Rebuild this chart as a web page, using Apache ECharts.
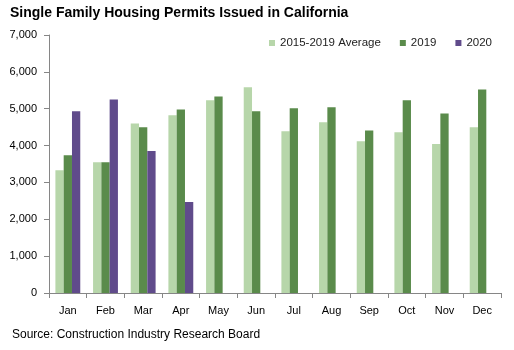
<!DOCTYPE html>
<html><head><meta charset="utf-8">
<script src="https://cdn.jsdelivr.net/npm/echarts@6/dist/echarts.min.js"></script>
<style>html,body{margin:0;padding:0;background:#fff}#c{width:514px;height:350px}</style>
</head><body><div id="c"></div>
<script>
var months = ['Jan','Feb','Mar','Apr','May','Jun','Jul','Aug','Sep','Oct','Nov','Dec'];
var avg1519 = [3330, 3550, 4600, 4820, 5230, 5580, 4390, 4630, 4120, 4360, 4040, 4500];
var y2019 = [3740, 3550, 4500, 4980, 5330, 4930, 5010, 5040, 4410, 5230, 4870, 5520];
var y2020 = [4930, 5250, 3850, 2470, null, null, null, null, null, null, null, null];
var seriesNames = ['2015-2019 Average', '2019', '2020'];
var FONT = 'Liberation Sans';
var chart = echarts.init(document.getElementById('c'), null, {renderer: 'canvas'});
chart.setOption({
  animation: false,
  textStyle: {fontFamily: FONT},
  title: [{
    text: 'Single Family Housing Permits Issued in California',
    left: 5, top: 1,
    textStyle: {fontFamily: FONT, fontSize: 14, fontWeight: 'bold', color: '#000'}
  }, {
    text: 'Source: Construction Industry Research Board',
    left: 7, top: 324,
    textStyle: {fontFamily: FONT, fontSize: 12, fontWeight: 'normal', color: '#000'}
  }],
  legend: {
    right: 17, top: 32,
    itemWidth: 6, itemHeight: 6, itemGap: 19,
    icon: 'rect',
    textStyle: {fontFamily: FONT, fontSize: 11.5, color: '#222'},
    data: seriesNames
  },
  grid: {left: 49, right: 13, top: 35, bottom: 57},
  xAxis: {
    type: 'category', data: months,
    axisLine: {lineStyle: {color: '#868686'}},
    axisTick: {show: true, length: 5, lineStyle: {color: '#868686'}},
    axisLabel: {color: '#000', fontSize: 11, margin: 12}
  },
  yAxis: {
    type: 'value', min: 0, max: 7000, interval: 1000,
    axisLine: {show: true, lineStyle: {color: '#868686'}},
    axisTick: {show: true, length: 5, lineStyle: {color: '#868686'}},
    splitLine: {show: false},
    axisLabel: {color: '#000', fontSize: 11, margin: 12,
      formatter: function (v) { return v.toLocaleString('en-US'); }}
  },
  series: [
    {name: seriesNames[0], type: 'bar', data: avg1519, barGap: '0%', barCategoryGap: '34%', itemStyle: {color: '#B7D6AA'}},
    {name: seriesNames[1], type: 'bar', data: y2019, barGap: '0%', barCategoryGap: '34%', itemStyle: {color: '#5A8B4B'}},
    {name: seriesNames[2], type: 'bar', data: y2020, barGap: '0%', barCategoryGap: '34%', itemStyle: {color: '#604B8B'}}
  ]
});
</script></body></html>
